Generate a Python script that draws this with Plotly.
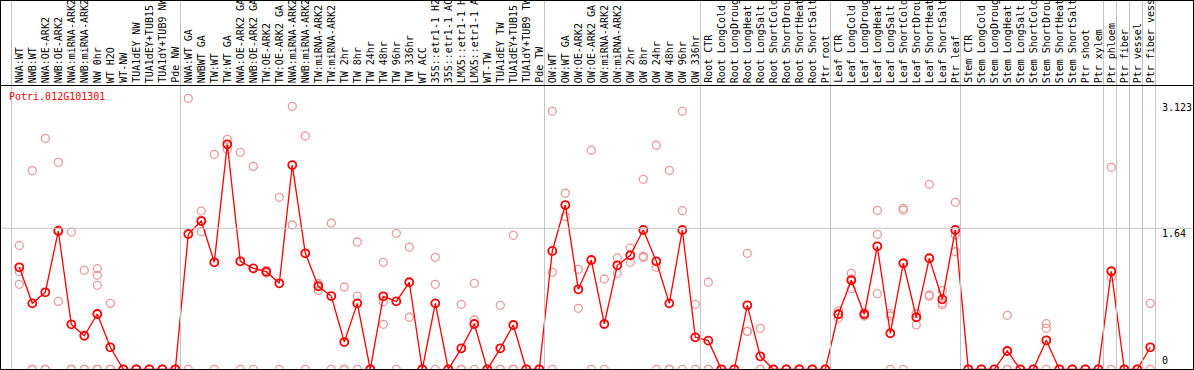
import plotly.graph_objects as go

# ---------------- data ----------------
labels = [
    "NWA:WT", "NWB:WT", "NWA:OE-ARK2", "NWB:OE-ARK2", "NWA:miRNA-ARK2", "NWB:miRNA-ARK2",
    "NW 0hr", "WT H2O", "WT-NW", "TUA1dEY NW", "TUA1dEY+TUB15", "TUA1dY+TUB9 NW", "Pde NW",
    "NWA:WT GA", "NWBWT GA", "TW:WT", "TW:WT GA", "NWA:OE-ARK2 GA", "NWB:OE-ARK2 GA",
    "TW:OE-ARK2", "TW:OE-ARK2 GA", "NWA:miRNA-ARK2", "NWB:miRNA-ARK2", "TW:miRNA-ARK2",
    "TW:miRNA-ARK2", "TW 2hr", "TW 8hr", "TW 24hr", "TW 48hr", "TW 96hr", "TW 336hr",
    "WT ACC", "35S::etr1-1 H2", "35S::etr1-1 AC", "LMX5::etr1-1 H", "LMX5::etr1-1 A",
    "WT-TW", "TUA1dEY TW", "TUA1dEY+TUB15", "TUA1dY+TUB9 TW", "Pde TW",
    "OW:WT", "OW:WT GA", "OW:OE-ARK2", "OW:OE-ARK2 GA", "OW:miRNA-ARK2", "OW:miRNA-ARK2",
    "OW 2hr", "OW 8hr", "OW 24hr", "OW 48hr", "OW 96hr", "OW 336hr",
    "Root CTR", "Root LongCold", "Root LongDroug", "Root LongHeat", "Root LongSalt",
    "Root ShortCold", "Root ShortDrou", "Root ShortHeat", "Root ShortSalt", "Ptr root",
    "Leaf CTR", "Leaf LongCold", "Leaf LongDroug", "Leaf LongHeat", "Leaf LongSalt",
    "Leaf ShortCold", "Leaf ShortDrou", "Leaf ShortHeat", "Leaf ShortSalt", "Ptr leaf",
    "Stem CTR", "Stem LongCold", "Stem LongDroug", "Stem LongHeat", "Stem LongSalt",
    "Stem ShortCold", "Stem ShortDrou", "Stem ShortHeat", "Stem ShortSalt", "Ptr shoot",
    "Ptr xylem", "Ptr phloem", "Ptr fiber", "Ptr vessel", "Ptr fiber vess",
]

means = [
    1.186, 0.767, 0.895, 1.608, 0.523, 0.39, 0.643, 0.256, 0, 0, 0, 0, 0,
    1.573, 1.724, 1.244, 2.616, 1.256, 1.174, 1.135, 1.0, 2.375, 1.349, 0.965, 0.852,
    0.317, 0.767, 0, 0.849, 0.79, 1.012, 0, 0.767, 0, 0.244, 0.527, 0, 0.244, 0.515, 0, 0,
    1.376, 1.91, 0.93, 1.271, 0.527, 1.209, 1.326, 1.62, 1.256, 0.767, 1.62, 0.372,
    0.333, 0, 0, 0.744, 0.151, 0, 0, 0, 0, 0,
    0.64, 1.035, 0.64, 1.43, 0.419, 1.233, 0.605, 1.291, 0.814, 1.62,
    0, 0, 0, 0.213, 0, 0, 0.337, 0, 0, 0, 0,
    1.14, 0, 0, 0.256,
]

replicates = [
    [1.44, 1.135, 0.988], [2.31, 0, 0], [2.686, 0, 0], [2.407, 0.79, 1.62], [1.596, 0, 0],
    [1.151, 0, 0], [1.17, 1.093, 0.977, 0, 0], [0.767, 0, 0], [0, 0, 0], [0, 0, 0],
    [0, 0, 0], [0, 0, 0], [0, 0, 0],
    [3.15, 0], [1.84, 1.60, 1.73], [2.5, 0], [2.674, 2.558, 2.616], [2.523, 0], [2.36, 0],
    [1.15, 1.12, 1.135], [2.0, 0], [3.058, 1.678], [2.713, 0], [1.0, 0.915, 0.98], [1.70, 0],
    [0.957, 0, 0], [1.48, 0.852, 0], [0, 0], [1.244, 0.786, 0.523], [1.581, 0], [1.419, 0.605],
    [0, 0], [1.302, 0.988, 0], [0, 0], [0.756, 0, 0], [1.0, 0.573, 0], [0, 0], [0.744, 0, 0],
    [1.558, 0, 0], [0, 0], [0, 0],
    [3.0, 1.128, 0], [2.047, 1.775], [1.163, 0.709], [2.547, 0], [1.05, 0], [1.294, 1.116],
    [1.41, 1.244], [2.209, 1.314, 1.30], [2.605, 1.186, 0], [2.314, 0, 0], [3.0, 1.844, 0],
    [0.756, 0],
    [1.012, 0, 0], [0, 0], [0, 0], [1.349, 0.442, 0.44], [0.477, 0, 0], [0, 0], [0, 0],
    [0, 0], [0, 0], [0, 0],
    [0.68, 0.593, 0.64], [1.116, 0.937, 1.05], [0.66, 0.62, 0.64], [1.849, 1.57, 0.879],
    [0.647, 0.62, 0], [1.872, 1.85, 0], [0.647, 0.515, 0.65], [2.151, 0.864, 0.85],
    [0.914, 0.771, 0.748], [1.942, 1.562, 1.367],
    [0, 0], [0, 0], [0, 0], [0.628, 0, 0], [0, 0], [0, 0], [0.53, 0.477, 0], [0, 0], [0, 0],
    [0, 0], [0, 0],
    [2.349, 1.07, 0], [0, 0], [0, 0], [0.767, 0],
]

group_bounds = [0, 13, 41, 53, 63, 73, 84, 85, 86, 87, 88]
gene_name = "Potri.012G101301"
grid_value = 1.64
max_value = 3.123

# ---------------- layout constants ----------------
W, H = 1194, 370
COL0, COLW = 19.3, 13.0          # pixel centre of first column, column width
Y0PX, PXPERUNIT = 369.3, 86.0    # pixel row of value 0, pixels per unit
HEADER = 85.5
FONT = "DejaVu Sans Mono"
REP_COLOR = "#E99A9A"
MEAN_COLOR = "#FF0000"
GRID = "#C4C4C4"

def py(p):   # pixel row -> paper y
    return 1 - p / H

def px(p):   # pixel column -> paper x
    return p / W

idx = list(range(len(labels)))

rx, ry = [], []
for i, vals in enumerate(replicates):
    for v in vals:
        rx.append(i)
        ry.append(v)

fig = go.Figure()
fig.add_trace(go.Scatter(
    x=rx, y=ry, mode="markers", hoverinfo="skip",
    marker=dict(symbol="circle-open", size=8, color=REP_COLOR, line=dict(width=1.3, color=REP_COLOR)),
))
fig.add_trace(go.Scatter(
    x=idx, y=means, mode="lines+markers", hoverinfo="skip",
    line=dict(color=MEAN_COLOR, width=1.3),
    marker=dict(symbol="circle-open", size=8, color=MEAN_COLOR, line=dict(width=1.8, color=MEAN_COLOR)),
))

shapes = []
# vertical group separators (full height)
for b in group_bounds:
    shapes.append(dict(type="line", xref="x", yref="paper", x0=b - 0.6, x1=b - 0.6,
                       y0=0, y1=1, line=dict(color=GRID, width=1)))
# horizontal grid line
shapes.append(dict(type="line", xref="paper", yref="y", x0=0, x1=1, y0=grid_value, y1=grid_value,
                   line=dict(color=GRID, width=1)))
# black frame & header separator
for (x0, y0, x1, y1) in [(0, 0.5, W, 0.5), (0, HEADER, W, HEADER), (0, 369.5, W, 369.5),
                         (0.5, 0, 0.5, H), (W - 0.5, 0, W - 0.5, H)]:
    shapes.append(dict(type="line", xref="paper", yref="paper", x0=px(x0), x1=px(x1),
                       y0=py(y0), y1=py(y1), line=dict(color="black", width=1)))

annotations = []
for i, lab in enumerate(labels):
    annotations.append(dict(
        x=i, y=py(83), xref="x", yref="paper", text=lab, textangle=-90, showarrow=False,
        xanchor="center", yanchor="bottom", borderpad=0, borderwidth=0,
        font=dict(family=FONT, size=10, color="black"),
    ))
annotations.append(dict(
    x=px(8.5), y=py(90.5), xref="paper", yref="paper", text=gene_name, showarrow=False,
    xanchor="left", yanchor="top", borderpad=0, borderwidth=0,
    font=dict(family=FONT, size=10, color=MEAN_COLOR),
))
for val, txt, anc, sh in [(max_value, "3.123", "top", -1), (grid_value, "1.64", "top", 0), (0, "0", "bottom", 3)]:
    annotations.append(dict(
        x=px(1162), y=val, xref="paper", yref="y", text=txt, showarrow=False,
        xanchor="left", yanchor=anc, yshift=sh, borderpad=0, borderwidth=0,
        font=dict(family=FONT, size=10, color="black"),
    ))

fig.update_layout(
    width=W, height=H, margin=dict(l=0, r=0, t=0, b=0),
    paper_bgcolor="white", plot_bgcolor="white", showlegend=False,
    xaxis=dict(range=[-COL0 / COLW, (W - COL0) / COLW], visible=False, fixedrange=True),
    yaxis=dict(range=[(Y0PX - H) / PXPERUNIT, Y0PX / PXPERUNIT], visible=False, fixedrange=True),
    shapes=shapes, annotations=annotations,
)

fig.write_html(
    "out.html",
    config={"displayModeBar": False},
    post_script="document.body.style.margin='0px';document.body.style.overflow='hidden';",
)
